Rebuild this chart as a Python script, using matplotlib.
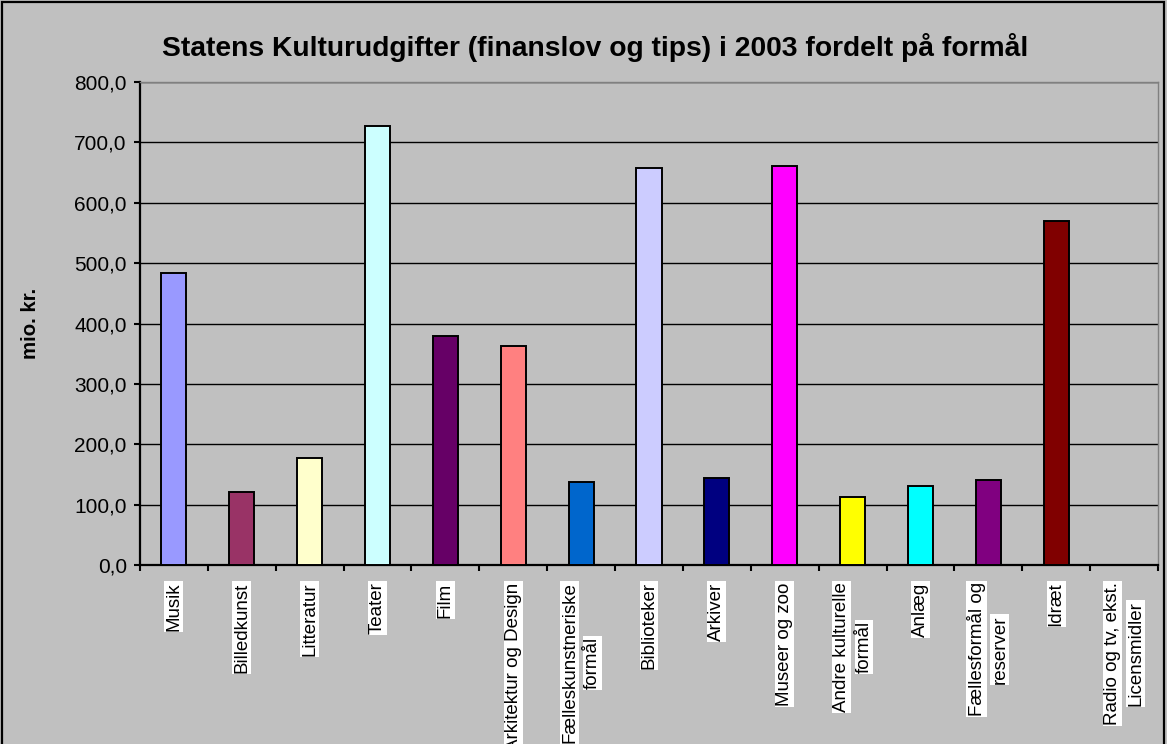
import matplotlib.pyplot as plt
from matplotlib.patches import Rectangle
import matplotlib.transforms as mtransforms
from matplotlib.ticker import FuncFormatter, FixedLocator

plt.rcParams['font.family'] = ['Liberation Sans', 'DejaVu Sans']

# Data (mio. kr.)
categories = ["Musik", "Billedkunst", "Litteratur", "Teater", "Film",
              "Arkitektur og Design", "Fælleskunstneriske\nformål", "Biblioteker",
              "Arkiver", "Museer og zoo", "Andre kulturelle\nformål", "Anlæg",
              "Fællesformål og\nreserver", "Idræt", "Radio og tv, ekst.\nLicensmidler"]
values = [483, 121, 177, 727, 380, 363, 137, 658, 144, 661, 113, 131, 141, 569, 0]
colors = ["#9999FF", "#993366", "#FFFFCC", "#CCFFFF", "#660066", "#FF8080", "#0066CC",
          "#CCCCFF", "#000080", "#FF00FF", "#FFFF00", "#00FFFF", "#800080", "#800000",
          "#0000FF"]
yticks = [0, 100, 200, 300, 400, 500, 600, 700, 800]

W, H = 1167, 744
fig = plt.figure(figsize=(W / 100, H / 100), dpi=100)
fig.patch.set_facecolor('#C0C0C0')
ax = fig.add_axes([140 / W, 1 - 565 / H, (1158 - 140) / W, (565 - 82) / H])
ax.set_facecolor('#C0C0C0')

x = list(range(len(categories)))
ax.bar(x, values, width=0.37, color=colors, edgecolor='black', linewidth=1.4, zorder=3)

ax.set_xlim(-0.5, len(categories) - 0.5)
ax.set_ylim(0, 800)
ax.yaxis.set_major_locator(FixedLocator(yticks))
ax.yaxis.set_major_formatter(FuncFormatter(lambda v, p: f"{v:.1f}".replace('.', ',')))
ax.grid(axis='y', color='black', linewidth=1.0, zorder=0)
ax.set_axisbelow(True)

ax.set_xticks([])
ax.xaxis.set_minor_locator(FixedLocator([i - 0.5 for i in range(len(categories) + 1)]))
ax.tick_params(axis='x', which='minor', length=4.5, width=1.5, direction='out', color='black')
ax.tick_params(axis='y', length=4.5, width=1.5, direction='out', labelsize=15, pad=5)

for side in ['left', 'bottom']:
    ax.spines[side].set_linewidth(1.6)
    ax.spines[side].set_color('black')
for side in ['top', 'right']:
    ax.spines[side].set_linewidth(1.0)
    ax.spines[side].set_color('#808080')

ax.set_ylabel("mio. kr.", fontsize=14.7, fontweight='bold', labelpad=25)

fig.text(595 / W, 1 - 47 / H, "Statens Kulturudgifter (finanslov og tips) i 2003 fordelt på formål",
         ha='center', va='center', fontsize=20.3, fontweight='bold')

# Rotated category labels, one white box per line
line_pitch = 16.5  # points
box = dict(boxstyle='square,pad=0.05', facecolor='white', edgecolor='none')
trans_base = ax.get_xaxis_transform()
first_lines = []
for i, lab in enumerate(categories):
    lines = lab.split('\n')
    n = len(lines)
    off = mtransforms.offset_copy(trans_base, fig=fig, x=(0 - (n - 1) / 2) * line_pitch,
                                  y=-12.5, units='points')
    t = ax.text(i, 0, lines[0], rotation=90, ha='center', va='top', fontsize=13.5,
                transform=off, bbox=box, clip_on=False)
    first_lines.append((i, lines, t))

fig.canvas.draw()
renderer = fig.canvas.get_renderer()
for i, lines, t in first_lines:
    n = len(lines)
    if n < 2:
        continue
    ext = t.get_window_extent(renderer)
    yc = (ext.y0 + ext.y1) / 2
    y_axes = ax.transAxes.inverted().transform((0, yc))[1]
    for k in range(1, n):
        off = mtransforms.offset_copy(trans_base, fig=fig, x=(k - (n - 1) / 2) * line_pitch,
                                      y=0, units='points')
        ax.text(i, y_axes, lines[k], rotation=90, ha='center', va='center', fontsize=13.5,
                transform=off, bbox=box, clip_on=False)

fig.patches.append(Rectangle((2 / W, -0.01), (W - 5) / W, 1.0 - 2 / H + 0.01,
                             transform=fig.transFigure, fill=False,
                             edgecolor='black', linewidth=1.6))

fig.savefig("out.png", dpi=100, facecolor=fig.get_facecolor())
plt.close(fig)
